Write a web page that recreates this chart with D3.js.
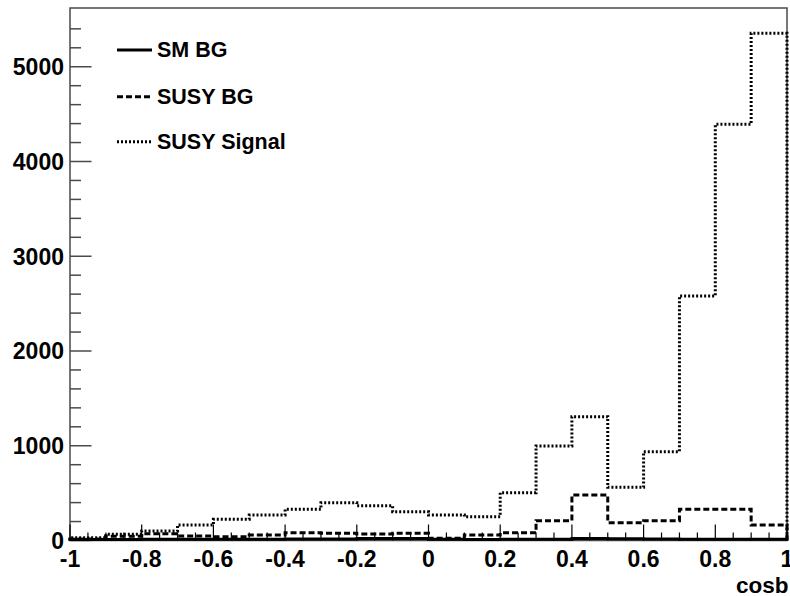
<!DOCTYPE html>
<html>
<head>
<meta charset="utf-8">
<script src="https://cdn.jsdelivr.net/npm/d3@7"></script>
<style>
  html, body { margin: 0; padding: 0; background: #fff; overflow: hidden; }
  svg { display: block; font-family: "Liberation Sans", Arial, Helvetica, sans-serif; font-weight: bold; }
</style>
</head>
<body>
<svg id="chart" width="790" height="596"></svg>
<script>
// ---- data ----
const binEdges = [-1, -0.9, -0.8, -0.7, -0.6, -0.5, -0.4, -0.3, -0.2, -0.1, 0,
                  0.1, 0.2, 0.3, 0.4, 0.5, 0.6, 0.7, 0.8, 0.9, 1];
const smBG       = [10, 10, 12, 12, 14, 14, 15, 16, 22, 22, 12, 10, 12, 14, 20, 18, 16, 12, 14, 12];
const susyBG     = [15, 45, 70, 47, 40, 58, 82, 76, 69, 76, 23, 58, 82, 209, 480, 188, 209, 329, 329, 164];
const susySignal = [30, 65, 100, 163, 224, 269, 329, 399, 367, 304, 269, 251, 505, 997, 1307, 561, 937, 2580, 4392, 5353];
const seriesNames = ["SM BG", "SUSY BG", "SUSY Signal"];
const xTickLabels = ["-1", "-0.8", "-0.6", "-0.4", "-0.2", "0", "0.2", "0.4", "0.6", "0.8", "1"];
const yTickLabels = ["0", "1000", "2000", "3000", "4000", "5000"];
const xTitle = "cosb";

// ---- layout ----
const L = 70, R = 787, T = 8, B = 540.5;
const svg = d3.select("#chart");
const x = d3.scaleLinear().domain([-1, 1]).range([L, R]);
const y = d3.scaleLinear().domain([0, 5620]).range([B, T]);

const frameColor = "#4a4a4a";

// frame
svg.append("rect").attr("x", L).attr("y", T).attr("width", R - L).attr("height", B - T)
  .attr("fill", "none").attr("stroke", frameColor).attr("stroke-width", 1.5);

// y axis ticks
const yMajor = yTickLabels.map(Number);
const yMinor = d3.range(0, 5600, 200).filter(v => v % 1000 !== 0);
const yAx = svg.append("g");
yAx.selectAll("line.maj").data(yMajor).join("line")
  .attr("x1", L).attr("x2", L + 21.5).attr("y1", d => y(d)).attr("y2", d => y(d))
  .attr("stroke", frameColor).attr("stroke-width", 1.5);
yAx.selectAll("line.min").data(yMinor).join("line")
  .attr("x1", L).attr("x2", L + 11).attr("y1", d => y(d)).attr("y2", d => y(d))
  .attr("stroke", frameColor).attr("stroke-width", 1.5);
yAx.selectAll("text").data(yTickLabels).join("text")
  .attr("x", L - 6).attr("y", d => y(+d) + 8.3)
  .attr("text-anchor", "end").attr("font-size", 23).attr("fill", "#000")
  .text(d => d);

// x axis ticks
const xMajor = xTickLabels.map(Number);
const xMinor = d3.range(-1, 1.0001, 0.05).map(v => Math.round(v * 100) / 100)
  .filter(v => !xMajor.some(m => Math.abs(m - v) < 1e-6));
const xAx = svg.append("g");
xAx.selectAll("line.maj").data(xMajor).join("line")
  .attr("x1", d => x(d)).attr("x2", d => x(d)).attr("y1", B).attr("y2", B - 16)
  .attr("stroke", "#000").attr("stroke-width", 1.2);
xAx.selectAll("line.min").data(xMinor).join("line")
  .attr("x1", d => x(d)).attr("x2", d => x(d)).attr("y1", B).attr("y2", B - 8)
  .attr("stroke", "#000").attr("stroke-width", 1.2);
xAx.selectAll("text").data(xTickLabels).join("text")
  .attr("x", d => x(+d)).attr("y", 566.5)
  .attr("text-anchor", "middle").attr("font-size", 23).attr("fill", "#000")
  .text(d => d);

svg.append("text").attr("x", 736).attr("y", 593).attr("font-size", 22.5).attr("fill", "#000").text(xTitle);

// histograms
const styles = [
  { data: smBG, dash: null, width: 3 },
  { data: susyBG, dash: "6,3", width: 3 },
  { data: susySignal, dash: "2,2", width: 3 }
];
const line = d3.line().x(d => x(d[0])).y(d => y(d[1]));
function stepPoints(vals) {
  const pts = [[binEdges[0], 0]];
  vals.forEach((v, i) => { pts.push([binEdges[i], v]); pts.push([binEdges[i + 1], v]); });
  pts.push([binEdges[binEdges.length - 1], 0]);
  return pts;
}
// draw signal first, then BGs on top
[2, 1, 0].forEach(i => {
  const s = styles[i];
  svg.append("path").attr("d", line(stepPoints(s.data)))
    .attr("fill", "none").attr("stroke", "#000").attr("stroke-width", s.width)
    .attr("stroke-dasharray", s.dash).attr("stroke-linejoin", "miter");
});

// legend
const legY = [50, 96.7, 141.7];
const leg = svg.append("g");
seriesNames.forEach((n, i) => {
  leg.append("line").attr("x1", 117).attr("x2", 152).attr("y1", legY[i]).attr("y2", legY[i])
    .attr("stroke", "#000").attr("stroke-width", 3).attr("stroke-dasharray", styles[i].dash);
  leg.append("text").attr("x", 157).attr("y", legY[i] + 7.3).attr("font-size", 21.5)
    .attr("fill", "#000").text(n);
});
</script>
</body>
</html>
